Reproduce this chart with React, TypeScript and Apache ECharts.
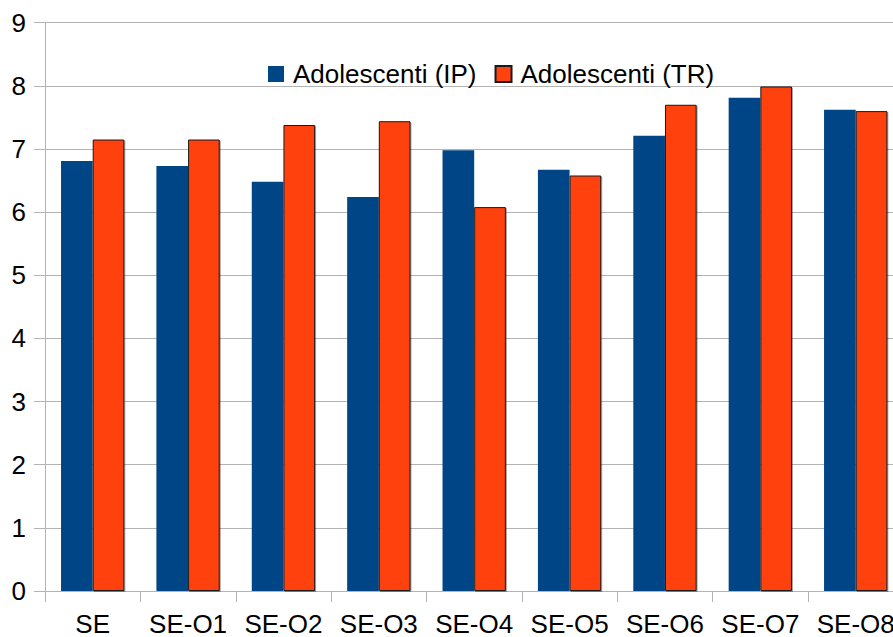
import React, { useEffect, useRef } from "react";
import * as echarts from "echarts";

const categories = ["SE", "SE-O1", "SE-O2", "SE-O3", "SE-O4", "SE-O5", "SE-O6", "SE-O7", "SE-O8"];
const ipValues = [6.81, 6.73, 6.48, 6.24, 6.98, 6.67, 7.21, 7.81, 7.62];
const trValues = [7.15, 7.15, 7.38, 7.44, 6.08, 6.58, 7.7, 7.99, 7.6];
const seriesNames = ["Adolescenti (IP)", "Adolescenti (TR)"];

const FONT = "'Liberation Sans', Arial, sans-serif";
const AXIS_GREY = "#b3b3b3";

export default function App() {
  const ref = useRef<HTMLDivElement>(null);

  useEffect(() => {
    if (!ref.current) return;
    const chart = echarts.init(ref.current, null, { renderer: "svg" });
    chart.setOption({
      animation: false,
      backgroundColor: "#ffffff",
      textStyle: { fontFamily: FONT },
      grid: { left: 45, top: 22.7, bottom: 46, right: 0.6, containLabel: false },
      legend: {
        left: 263,
        top: 56,
        itemWidth: 16,
        itemHeight: 16,
        itemGap: 18,
        icon: "rect",
        textStyle: { fontFamily: FONT, fontSize: 26, color: "#000", padding: [0, 0, 0, 4] },
        data: seriesNames,
      },
      xAxis: {
        type: "category",
        data: categories,
        axisLine: { lineStyle: { color: AXIS_GREY, width: 1 } },
        axisTick: { show: true, length: 11, lineStyle: { color: AXIS_GREY } },
        axisLabel: {
          fontFamily: FONT,
          fontSize: 26,
          lineHeight: 26,
          color: "#000",
          margin: 20,
          interval: 0,
        },
        splitLine: { show: false },
      },
      yAxis: {
        type: "value",
        min: 0,
        max: 9,
        interval: 1,
        axisLine: { show: true, lineStyle: { color: AXIS_GREY, width: 1 } },
        axisTick: { show: true, length: 11, lineStyle: { color: AXIS_GREY } },
        axisLabel: { fontFamily: FONT, fontSize: 26, color: "#000", margin: 19 },
        splitLine: { show: true, lineStyle: { color: AXIS_GREY, width: 1 } },
      },
      series: [
        {
          name: seriesNames[0],
          type: "bar",
          data: ipValues,
          barGap: "0%",
          barCategoryGap: "33.6%",
          itemStyle: { color: "#004586" },
        },
        {
          name: seriesNames[1],
          type: "bar",
          data: trValues,
          barGap: "0%",
          barCategoryGap: "33.6%",
          itemStyle: {
            color: "#ff420e",
            borderColor: "#1a1a1a",
            borderWidth: 1,
            shadowColor: "rgba(0,0,0,0.35)",
            shadowOffsetX: 1,
            shadowOffsetY: 1,
            shadowBlur: 0,
          },
        },
      ],
    });
    return () => chart.dispose();
  }, []);

  // The chart canvas is slightly wider than the visible frame, so the last
  // category runs off the right edge.
  return (
    <div style={{ position: "fixed", left: 0, top: 0, width: 893, height: 637, overflow: "hidden" }}>
      <div ref={ref} style={{ width: 904, height: 637 }} />
    </div>
  );
}
